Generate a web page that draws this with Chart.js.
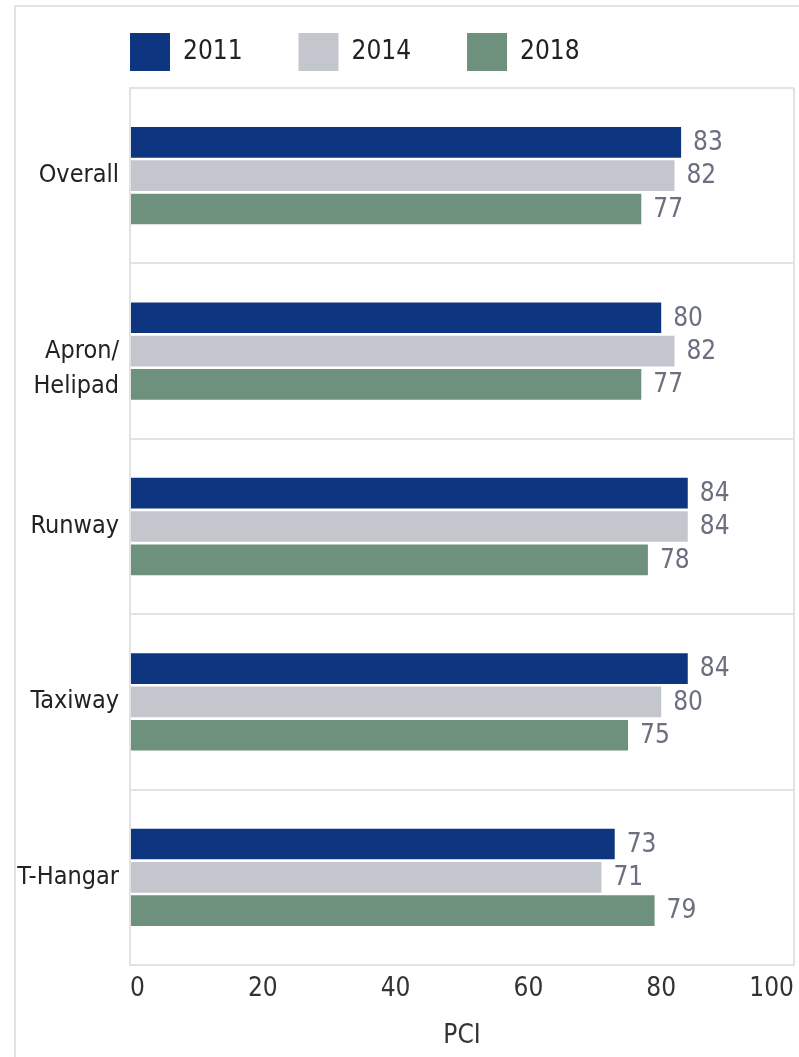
<!DOCTYPE html>
<html>
<head>
<meta charset="utf-8">
<script src="https://cdn.jsdelivr.net/npm/chart.js@4.4.1/dist/chart.umd.min.js"></script>
<style>
  html, body { margin: 0; padding: 0; background: #fff; overflow: hidden; }
  #frame { position: absolute; left: 14px; top: 5px; right: 0; bottom: 0;
           border-left: 2px solid #e2e2e4; border-top: 2px solid #e2e2e4; }
  #wrap { position: absolute; left: 0; top: 0; width: 799px; height: 1057px; }
</style>
</head>
<body>
<div id="frame"></div>
<div id="wrap"><canvas id="barChart"></canvas></div>
<script>
const categories = ['Overall', ['Apron/', 'Helipad'], 'Runway', 'Taxiway', 'T-Hangar'];
const years = ['2011', '2014', '2018'];
const pci2011 = [83, 80, 84, 84, 73];
const pci2014 = [82, 82, 84, 80, 71];
const pci2018 = [77, 77, 78, 75, 79];
const xTicks = [0, 20, 40, 60, 80, 100];

const FONT = '"Liberation Sans Narrow", "DejaVu Sans Condensed", "Roboto", sans-serif';

// value labels at the end of each bar
const barValues = {
    id: 'barValues',
    afterDatasetsDraw(chart) {
        const ctx = chart.ctx;
        ctx.save();
        ctx.font = '26px ' + FONT;
        ctx.fillStyle = '#6b6f7f';
        ctx.textAlign = 'left';
        ctx.textBaseline = 'middle';
        chart.data.datasets.forEach((ds, i) => {
            chart.getDatasetMeta(i).data.forEach((bar, j) => {
                ctx.fillText(ds.data[j], bar.x + 12, bar.y + 1);
            });
        });
        ctx.restore();
    }
};

// legend sits over the plot's left edge, with a little more room below it
const legendPlace = {
    id: 'legendPlace',
    beforeInit(chart) {
        const fit = chart.legend.fit;
        chart.legend.fit = function () {
            fit.call(this);
            this.height += 7;
        };
    },
    afterLayout(chart) {
        chart.legend.left = chart.chartArea.left - 56;
    }
};

const barCtx = document.getElementById('barChart').getContext('2d');

const barChart = new Chart(barCtx, {
    type: 'bar',
    data: {
        labels: categories,
        datasets: [
            { label: years[0], data: pci2011, backgroundColor: '#0d3580' },
            { label: years[1], data: pci2014, backgroundColor: '#c3c6cd' },
            { label: years[2], data: pci2018, backgroundColor: '#6e917e' }
        ]
    },
    options: {
        indexAxis: 'y',
        responsive: true,
        maintainAspectRatio: false,
        animation: false,
        categoryPercentage: 0.57,
        barPercentage: 0.92,
        layout: { padding: { top: -23, right: 5, bottom: 0, left: 0 } },
        plugins: {
            legend: {
                position: 'top',
                align: 'start',
                labels: {
                    boxWidth: 40,
                    boxHeight: 38,
                    padding: 56,
                    color: '#222',
                    font: { family: FONT, size: 26 }
                }
            },
            tooltip: { enabled: false }
        },
        scales: {
            x: {
                min: 0,
                max: 100,
                afterBuildTicks: (scale) => { scale.ticks = xTicks.map(v => ({ value: v })); },
                afterFit: (scale) => {
                    scale.height = 92;
                    scale.paddingLeft = 0;
                    scale.paddingRight = 0;
                },
                grid: {
                    drawTicks: false,
                    lineWidth: 2,
                    color: (c) => (c.tick && c.tick.value === 100) ? '#e2e2e4' : 'transparent'
                },
                border: { color: '#e2e2e4', width: 2 },
                ticks: {
                    align: 'inner',
                    padding: 9,
                    color: '#333',
                    font: { family: FONT, size: 26 }
                },
                title: {
                    display: true,
                    text: 'PCI',
                    color: '#333',
                    padding: { top: 4, bottom: 5 },
                    font: { family: FONT, size: 26 }
                }
            },
            y: {
                afterFit: (scale) => { scale.width = 130; },
                grid: {
                    offset: true,
                    drawTicks: false,
                    lineWidth: 2,
                    color: '#e2e2e4'
                },
                border: { color: '#e2e2e4', width: 2 },
                ticks: {
                    padding: 11,
                    color: '#222',
                    font: { family: FONT, size: 25, lineHeight: 1.42 },
                    // two-line labels hang from the band centre
                    callback: function (value) {
                        const label = this.getLabelForValue(value);
                        return Array.isArray(label) ? [''].concat(label) : label;
                    }
                }
            }
        }
    },
    plugins: [barValues, legendPlace]
});
</script>
</body>
</html>
